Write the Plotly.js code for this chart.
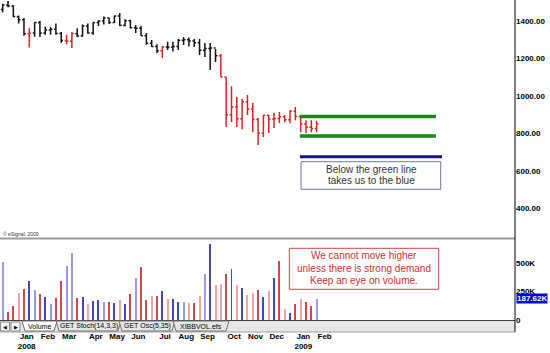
<!DOCTYPE html>
<html><head><meta charset="utf-8">
<script src="https://cdn.plot.ly/plotly-3.0.1.min.js"></script>
<style>html,body{margin:0;padding:0;background:#fff}#chart{width:550px;height:353px}</style>
</head><body><div id="chart"></div>
<script>
// ---- data (weekly bars, week starting Monday) ----
const weeks = ['2007-12-17','2007-12-24','2007-12-31','2008-01-07','2008-01-14','2008-01-21','2008-01-28',
 '2008-02-04','2008-02-11','2008-02-18','2008-02-25','2008-03-03','2008-03-10','2008-03-17','2008-03-24','2008-03-31',
 '2008-04-07','2008-04-14','2008-04-21','2008-04-28','2008-05-05','2008-05-12','2008-05-19','2008-05-26',
 '2008-06-02','2008-06-09','2008-06-16','2008-06-23','2008-06-30','2008-07-07','2008-07-14','2008-07-21','2008-07-28',
 '2008-08-04','2008-08-11','2008-08-18','2008-08-25','2008-09-01','2008-09-08','2008-09-15','2008-09-22','2008-09-29',
 '2008-10-06','2008-10-13','2008-10-20','2008-10-27','2008-11-03','2008-11-10','2008-11-17','2008-11-24',
 '2008-12-01','2008-12-08','2008-12-15','2008-12-22','2008-12-29','2009-01-05','2009-01-12','2009-01-19','2009-01-26','2009-02-02'];
const open  = [1460,1484,1478,1420,1405,1330,1335,1390,1335,1350,1355,1332,1295,1290,1330,1318,1372,1335,1390,1398,
 1415,1390,1425,1375,1400,1362,1360,1320,1280,1262,1240,1260,1258,1262,1296,1298,1292,1283,1242,1252,
 1255,1213,1100,899,940,877,968,930,873,800,896,876,879,888,872,918,890,850,832,826];
const high  = [1490,1505,1482,1428,1415,1360,1393,1398,1368,1368,1385,1340,1325,1340,1360,1380,1385,1392,1402,1422,
 1416,1428,1441,1408,1405,1377,1372,1334,1297,1275,1265,1288,1288,1302,1313,1310,1302,1302,1281,1281,
 1249,1222,1100,1050,993,982,1004,961,881,897,897,908,913,897,924,940,897,870,870,865];
const low   = [1445,1472,1420,1385,1320,1258,1315,1313,1325,1325,1325,1282,1275,1255,1313,1315,1330,1325,1372,1380,
 1383,1388,1372,1370,1358,1335,1318,1272,1260,1228,1201,1244,1236,1244,1270,1262,1260,1217,1206,1137,
 1180,1100,833,860,833,822,897,806,737,780,801,828,855,858,854,870,806,801,806,806];
const close = [1484,1478,1422,1405,1330,1335,1390,1335,1350,1355,1332,1295,1290,1330,1318,1372,1335,1390,1398,1415,
 1390,1425,1375,1400,1362,1360,1320,1280,1262,1240,1260,1258,1262,1296,1298,1292,1283,1242,1252,1255,
 1213,1100,899,940,877,968,930,873,800,896,876,879,888,872,918,890,850,832,826,850];
const priceColor = ('kkkkk'+'r'+'kkkkkk'+'rr'+'kkkkkkkkkkkkkkkk'+'r'+'kkkkkkkkkk'+'rrrrrrrrrrrrrrrrrrr').split('');
const volume = [509000,73000,122000,233000,271000,340000,262000,227000,198000,137000,
 189000,340000,471000,587000,189000,201000,143000,163000,172000,154000,
 160000,151000,175000,137000,224000,369000,462000,175000,209000,209000,
 253000,180000,183000,160000,160000,151000,151000,209000,401000,660000,
 305000,317000,401000,445000,305000,276000,218000,238000,262000,204000,
 253000,369000,517000,93000,64000,140000,183000,157000,125000,187620];
const volColor = ['b','R','R','r','R','B','b','R','B','b','R','R','b','b','R','B','r','B','B','b',
 'R','B','r','B','R','b','R','R','r','R','B','r','B','B','b','r','R','r','b','B',
 'r','r','R','B','r','B','r','r','R','B','r','B','R','r','B','R','r','R','R','b'];
const monthTicks  = ['2008-01-07','2008-02-04','2008-03-03','2008-04-07','2008-05-05','2008-06-02','2008-07-07',
 '2008-08-04','2008-09-01','2008-10-06','2008-11-03','2008-12-01','2009-01-05','2009-02-02'];
const monthLabels = ['Jan<br>2008','Feb','Mar','Apr','May','Jun','Jul','Aug','Sep','Oct','Nov','Dec','Jan<br>2009','Feb'];
const priceTicks = [400,600,800,1000,1200,1400];
const volTicks = [0,250000,500000];
const volTickLabels = ['0','250K','500K'];
const greenLevels = [890,785];
const blueLevels = [675];
const noteA = ['Below the green line','takes us to the blue'];
const noteB = ['We cannot move higher','unless there is strong demand','Keep an eye on volume.'];
const tabs = ['Volume','GET Stoch(14,3,3)','GET Osc(5,35)','XIBBVOL.efs'];

// ---- styling ----
const W = 515, H = 320;
const px = x => x / W, py = y => (H - y) / H;
const FONT = 'Liberation Sans, Arial, sans-serif';
const volPal = {B:'#4646c4', b:'#9a9ae6', R:'#d24848', r:'#f0a4a4'};
const pricePal = {k:'#111111', r:'#dd2222'};

function ohlcTrace(code) {
  const idx = weeks.map((_, i) => i).filter(i => priceColor[i] === code);
  const c = pricePal[code];
  return {type:'ohlc', x:idx.map(i=>weeks[i]), open:idx.map(i=>open[i]), high:idx.map(i=>high[i]),
    low:idx.map(i=>low[i]), close:idx.map(i=>close[i]), xaxis:'x', yaxis:'y', tickwidth:0.35,
    increasing:{line:{color:c,width:1.5}}, decreasing:{line:{color:c,width:1.5}}, hoverinfo:'skip'};
}
const traces = [ohlcTrace('k'), ohlcTrace('r'),
  {type:'bar', x:weeks, y:volume, xaxis:'x', yaxis:'y2', width:2.6*86400000,
   marker:{color:volColor.map(c=>volPal[c]), line:{width:0}}, hoverinfo:'skip'}];

const tickFont = {family:FONT, size:8, color:'#000', weight:'bold'};
const shapes = [];
const annotations = [];
function note(x, y, text, font, extra) {
  annotations.push(Object.assign({xref:'paper', yref:'paper', x:px(x), y:py(y), xanchor:'center', yanchor:'middle',
    text:text, showarrow:false, font:font}, extra || {}));
}
// separator between panels
shapes.push({type:'line', xref:'paper', yref:'paper', x0:0, x1:1, y0:py(238.6), y1:py(238.6), line:{color:'#9c9c9c', width:2}});
// tab bar
shapes.push({type:'rect', xref:'paper', yref:'paper', x0:0, x1:1, y0:py(320.5), y1:py(332), fillcolor:'#e6e6e6', line:{width:0}});
shapes.push({type:'line', xref:'paper', yref:'paper', x0:0, x1:1, y0:py(320.5), y1:py(320.5), line:{color:'#404040', width:1}});
shapes.push({type:'line', xref:'paper', yref:'paper', x0:0, x1:1, y0:py(332), y1:py(332), line:{color:'#a0a0a0', width:1}});
// buttons
[[0.5,9.5,'\u25C0'],[11,20,'\u25B6']].forEach(b => {
  shapes.push({type:'rect', xref:'paper', yref:'paper', x0:px(b[0]), x1:px(b[1]), y0:py(322), y1:py(331), fillcolor:'#f2f2f2', line:{color:'#8a8a8a', width:1}});
  note((b[0]+b[1])/2, 326.5, b[2], {family:'DejaVu Sans', size:5, color:'#000'});
});
// tabs
const tabX = [[22,57],[56,121],[119,175],[173,229]];
const tabPath = (a,b) => `M ${px(a)},${py(321)} L ${px(a+3)},${py(331)} L ${px(b-3)},${py(331)} L ${px(b)},${py(321)} Z`;
[1,2,3,0].forEach(i => {
  shapes.push({type:'path', xref:'paper', yref:'paper', path:tabPath(tabX[i][0], tabX[i][1]),
    fillcolor: i===0 ? '#ffffff' : '#e6e6e6', line:{color:'#707070', width:1}});
});
tabs.forEach((t,i) => note((tabX[i][0]+tabX[i][1])/2, 326, t, {family:FONT, size:7, color:'#000'}));
// right axis line
shapes.push({type:'line', xref:'paper', yref:'paper', x0:1, x1:1, y0:py(0), y1:py(332), line:{color:'#000', width:1}});
// support levels
greenLevels.forEach(v => shapes.push({type:'line', xref:'x', yref:'y', x0:'2009-01-11', x1:'2009-07-09', y0:v, y1:v, line:{color:'#168a16', width:3.5}}));
blueLevels.forEach(v => shapes.push({type:'line', xref:'x', yref:'y', x0:'2009-01-11', x1:'2009-07-17', y0:v, y1:v, line:{color:'#14147e', width:3}}));
// note boxes
shapes.push({type:'rect', xref:'paper', yref:'paper', x0:px(301), x1:px(440.7), y0:py(161.7), y1:py(189.3), line:{color:'#6b7b95', width:1}});
[169.3,180.7].forEach((y,i) => note(371, y, noteA[i], {family:FONT, size:10, color:'#333'}));
shapes.push({type:'rect', xref:'paper', yref:'paper', x0:px(289.3), x1:px(438.7), y0:py(248.3), y1:py(289.3), line:{color:'#c8484a', width:1}});
[255.7,268.5,280.7].forEach((y,i) => note(364, y, noteB[i], {family:FONT, size:10, color:'#d32f2f'}));
// copyright
note(1, 234, '\u00A9 eSignal, 2009', {family:FONT, size:5, color:'#333'}, {xanchor:'left'});
// last volume value marker
const lastVol = volume[volume.length-1];
annotations.push({xref:'paper', yref:'y2', x:1, y:lastVol, xanchor:'left', yanchor:'middle', xshift:1, text:(lastVol/1000).toFixed(2)+'K', showarrow:false,
  bgcolor:'#0000e0', borderpad:0, font:{family:FONT, size:8, color:'#fff', weight:'bold'}});

const layout = {
  width:550, height:353, margin:{l:0, r:35, t:0, b:33}, paper_bgcolor:'#fff', plot_bgcolor:'#fff', showlegend:false,
  xaxis:{type:'date', range:['2007-12-13 10:48','2009-10-21'], anchor:'y2', tickvals:monthTicks, ticktext:monthLabels,
    ticks:'', showgrid:false, zeroline:false, showline:false, rangeslider:{visible:false}, tickfont:tickFont,
    ticklabelshift:8, ticklabelstandoff:10, fixedrange:true},
  yaxis:{domain:[py(238),1], range:[241.8,1510.3], side:'right', ticks:'', tickvals:priceTicks, tickformat:'.2f',
    showgrid:false, zeroline:false, showline:false, tickfont:tickFont, fixedrange:true},
  yaxis2:{domain:[0,py(240)], range:[0,698000], side:'right', ticks:'', tickvals:volTicks, ticktext:volTickLabels,
    showgrid:false, zeroline:false, showline:false, tickfont:tickFont, fixedrange:true},
  shapes:shapes, annotations:annotations, bargap:0
};
Plotly.newPlot('chart', traces, layout, {staticPlot:true, displayModeBar:false});
</script></body></html>
